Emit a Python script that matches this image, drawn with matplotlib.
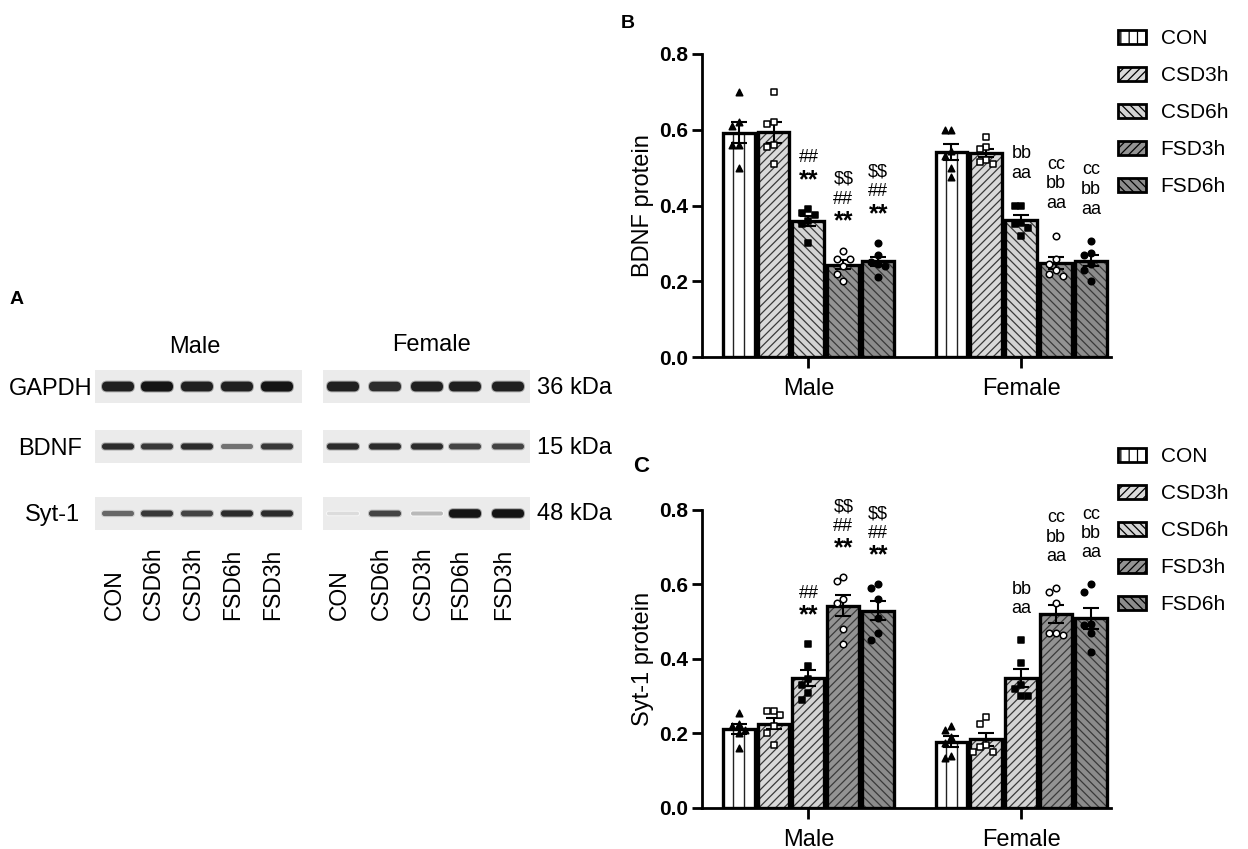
import numpy as np
import matplotlib
matplotlib.use('Agg')
import matplotlib.pyplot as plt
from matplotlib.patches import Patch, Rectangle, FancyBboxPatch

plt.rcParams['font.family'] = ['Liberation Sans', 'DejaVu Sans']
plt.rcParams['hatch.linewidth'] = 0.9

# ---------------- data ----------------
groups = ['Male', 'Female']
conditions = ['CON', 'CSD3h', 'CSD6h', 'FSD3h', 'FSD6h']

# BDNF protein, individual animals
bdnf_male = [
    [0.70, 0.62, 0.61, 0.56, 0.56, 0.50],
    [0.70, 0.62, 0.615, 0.56, 0.555, 0.51],
    [0.39, 0.38, 0.375, 0.36, 0.35, 0.30],
    [0.28, 0.26, 0.26, 0.24, 0.22, 0.20],
    [0.30, 0.27, 0.25, 0.245, 0.24, 0.21],
]
bdnf_female = [
    [0.60, 0.60, 0.545, 0.53, 0.50, 0.475],
    [0.58, 0.555, 0.55, 0.52, 0.515, 0.51],
    [0.40, 0.40, 0.355, 0.35, 0.34, 0.32],
    [0.32, 0.26, 0.245, 0.23, 0.22, 0.215],
    [0.305, 0.275, 0.27, 0.245, 0.23, 0.20],
]
# Syt-1 protein
syt_male = [
    [0.255, 0.225, 0.22, 0.21, 0.20, 0.16],
    [0.26, 0.26, 0.25, 0.22, 0.20, 0.17],
    [0.44, 0.38, 0.345, 0.33, 0.31, 0.29],
    [0.62, 0.61, 0.56, 0.55, 0.48, 0.44],
    [0.60, 0.59, 0.56, 0.51, 0.47, 0.45],
]
syt_female = [
    [0.22, 0.21, 0.19, 0.175, 0.14, 0.135],
    [0.245, 0.225, 0.17, 0.165, 0.15, 0.15],
    [0.45, 0.39, 0.33, 0.32, 0.30, 0.30],
    [0.59, 0.58, 0.55, 0.47, 0.47, 0.465],
    [0.60, 0.58, 0.495, 0.49, 0.47, 0.42],
]

# significance marks, bottom line first
marks_male = [[], [], ['**', '##'], ['**', '##', '$$'], ['**', '##', '$$']]
marks_female = [[], [], ['aa', 'bb'], ['aa', 'bb', 'cc'], ['aa', 'bb', 'cc']]

# western blot band strength (0 = none, 1 = strongest)
blot_rows = ['GAPDH', 'BDNF', 'Syt-1']
blot_kda = ['36 kDa', '15 kDa', '48 kDa']
lane_names = ['CON', 'CSD6h', 'CSD3h', 'FSD6h', 'FSD3h']
band_male = [
    [0.95, 1.0, 0.95, 0.95, 1.0],
    [0.9, 0.85, 0.9, 0.6, 0.85],
    [0.65, 0.85, 0.8, 0.9, 0.9],
]
band_female = [
    [0.95, 0.9, 0.95, 0.95, 0.95],
    [0.9, 0.9, 0.9, 0.8, 0.8],
    [0.15, 0.8, 0.3, 1.0, 1.0],
]

# ---------------- style ----------------
face = ['white', '#dadada', '#d4d4d4', '#939393', '#8c8c8c']
hatch_B = ['', '////', '\\\\\\\\', '\\\\\\\\', '\\\\\\\\']
hatch_C = ['', '////', '////', '////', '\\\\\\\\']
legend_hatch = ['||', '////', '\\\\\\\\', '////', '\\\\\\\\']
mk = ['^', 's', 's', 'o', 'o']
mk_fill = ['black', 'white', 'black', 'white', 'black']

fig = plt.figure(figsize=(12.48, 8.49), dpi=100)


def swarm(vals, step=0.032, thr=0.022):
    order = np.argsort(vals)[::-1]
    placed = []
    offs = np.zeros(len(vals))
    for i in order:
        for c in [0, -1, 1, -2, 2, -3, 3]:
            ok = True
            for pv, pc in placed:
                if abs(pv - vals[i]) < thr and abs(pc - c) < 1:
                    ok = False
            if ok:
                break
        placed.append((vals[i], c))
        offs[i] = c * step
    return offs


def bar_panel(ax, male, female, hatches, ylabel):
    spacing = 0.164
    width = 0.15
    for g, (pts, marks) in enumerate([(male, marks_male), (female, marks_female)]):
        for i in range(5):
            x = g + (i - 2) * spacing
            v = np.array(pts[i])
            m = v.mean()
            sem = v.std(ddof=1) / np.sqrt(len(v))
            ax.bar(x, m, width, color=face[i], hatch=hatches[i],
                   edgecolor='#3a3a3a', linewidth=0, zorder=2)
            if i == 0:
                for k in (1, 2):
                    ax.plot([x - width / 2 + k * width / 3] * 2, [0, m],
                            color='#222222', lw=1.0, zorder=2.5)
            ax.bar(x, m, width, fill=False, edgecolor='black',
                   linewidth=2.4, zorder=3)
            ax.errorbar(x, m, yerr=sem, fmt='none', ecolor='black',
                        elinewidth=1.5, capsize=6, capthick=1.5, zorder=4)
            xs = x + swarm(v)
            ax.scatter(xs, v, s=22, marker=mk[i], facecolor=mk_fill[i],
                       edgecolor='black', linewidths=1.1, zorder=5)
            base = max(v.max(), m + sem) + 0.085
            for k, t in enumerate(marks[i]):
                y = base + k * 0.052
                fs = 13
                fw = 'normal'
                if t == '**':
                    fs, fw = 18, 'bold'
                    y -= 0.008
                ax.text(x, y, t, ha='center', va='center',
                        fontsize=fs, fontweight=fw, clip_on=False, zorder=6,
                        parse_math=False)
    ax.set_xlim(-0.5, 1.42)
    ax.set_ylim(0, 0.8)
    ax.set_yticks([0, 0.2, 0.4, 0.6, 0.8])
    ax.set_yticklabels(['0.0', '0.2', '0.4', '0.6', '0.8'],
                       fontweight='bold', fontsize=15)
    ax.set_xticks([0, 1])
    ax.set_xticklabels(groups, fontsize=17)
    ax.spines['top'].set_visible(False)
    ax.spines['right'].set_visible(False)
    for s in ['left', 'bottom']:
        ax.spines[s].set_linewidth(2.0)
    ax.tick_params(axis='y', length=7, width=2.0, pad=3)
    ax.tick_params(axis='x', length=8, width=2.0, pad=7)
    ax.set_ylabel(ylabel, fontsize=17, labelpad=4)


axB = fig.add_axes([0.5625, 0.5795, 0.3275, 0.3569])
bar_panel(axB, bdnf_male, bdnf_female, hatch_B, 'BDNF protein')
axC = fig.add_axes([0.5625, 0.0483, 0.3275, 0.351])
bar_panel(axC, syt_male, syt_female, hatch_C, 'Syt-1 protein')

handles = [Patch(facecolor=face[i], hatch=legend_hatch[i], edgecolor='black',
                 linewidth=2.0, label=conditions[i]) for i in range(5)]
for top in (29, 447):
    fig.legend(handles=handles, loc='upper left', frameon=False,
               bbox_to_anchor=(1118 / 1248, 1 - top / 849), borderaxespad=0,
               borderpad=0, fontsize=15, handlelength=1.35, handleheight=0.65,
               handletextpad=0.7, labelspacing=0.87)

fig.text(621 / 1248, 1 - 24 / 849, 'B', fontsize=14, fontweight='bold',
         va='center')
fig.text(633 / 1248, 1 - 467 / 849, 'C', fontsize=16, fontweight='bold',
         va='center')

# ---------------- panel A: blot ----------------
axA = fig.add_axes([0, 0, 1, 1], zorder=-1)
axA.set_xlim(0, 1248)
axA.set_ylim(849, 0)
axA.axis('off')
axA.patch.set_alpha(0)

axA.text(10, 299, 'A', fontsize=14, fontweight='bold', va='center')
axA.text(195, 347, 'Male', fontsize=17, ha='center', va='center')
axA.text(432, 345, 'Female', fontsize=17, ha='center', va='center')

row_y = [386.5, 446.5, 513.5]
row_label_right = [92, 82, 80]
band_h = [10, 6.5, 6.5]
lanes_m = [118, 157, 197, 237, 277]
lanes_f = [343, 385, 427, 465, 508]
for r in range(3):
    for (x0, x1) in [(95, 302), (323, 530)]:
        axA.add_patch(Rectangle((x0, row_y[r] - 16.5), x1 - x0, 33,
                                facecolor='#ebebeb', edgecolor='none'))
    axA.text(row_label_right[r], row_y[r] + 2, blot_rows[r], fontsize=17,
             ha='right', va='center')
    axA.text(537, row_y[r] + 1, blot_kda[r], fontsize=17, ha='left',
             va='center')
    for lanes, bands in [(lanes_m, band_male), (lanes_f, band_female)]:
        for j, xc in enumerate(lanes):
            b = bands[r][j]
            h = band_h[r] * (0.45 + 0.55 * b) + (2 if b > 0.97 and r == 2 else 0)
            w = 32
            g = 1 - 0.92 * b
            axA.add_patch(FancyBboxPatch((xc - w / 2 - 1, row_y[r] - h / 2 - 1),
                                         w + 2, h + 2,
                                         boxstyle='round,pad=0,rounding_size=%.1f' % ((h + 2) / 2),
                                         facecolor=str(min(1, g + 0.35)),
                                         edgecolor='none', alpha=0.6))
            axA.add_patch(FancyBboxPatch((xc - w / 2, row_y[r] - h / 2), w, h,
                                         boxstyle='round,pad=0,rounding_size=%.1f' % (h / 2),
                                         facecolor=str(g), edgecolor='none'))

for lanes in (lanes_m, lanes_f):
    for j, xc in enumerate(lanes):
        axA.text(xc - 4, 620, lane_names[j], fontsize=16.5, rotation=90,
                 ha='center', va='bottom')

fig.savefig('out.png', dpi=100)
